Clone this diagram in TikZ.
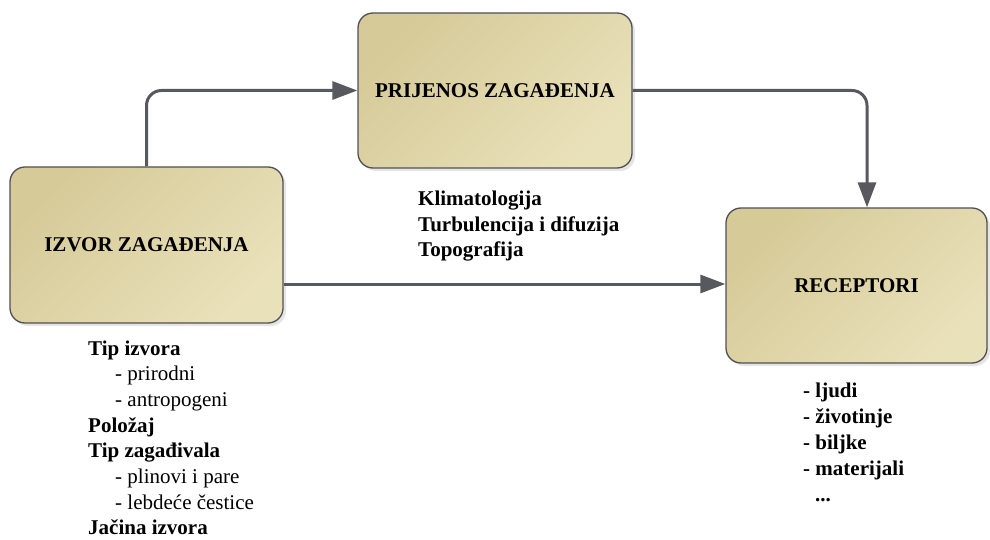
\documentclass[tikz,border=0pt]{standalone}
\usepackage{fontspec}
\setmainfont{Liberation Serif}
\usetikzlibrary{arrows.meta,shadows}
\definecolor{boxdark}{RGB}{214,202,152}
\definecolor{boxlight}{RGB}{233,225,186}
\definecolor{edgecol}{RGB}{80,80,86}
\definecolor{arrcol}{RGB}{88,88,95}
\begin{document}
\begin{tikzpicture}[x=1pt,y=-1pt,
  box/.style={draw=edgecol, line width=1.3pt, rounded corners=15pt,
    top color=boxdark, bottom color=boxlight, shading angle=45,
    drop shadow={shadow xshift=3pt, shadow yshift=-3pt, fill=black!20},
    font=\fontsize{21}{26}\selectfont\bfseries, inner sep=0pt},
  conn/.style={draw=arrcol, line width=3pt, rounded corners=15pt,
    -{Triangle[length=25pt,width=18pt]}},
  txt/.style={anchor=base west, inner sep=0pt, font=\fontsize{21}{26}\selectfont},
  btxt/.style={txt, font=\fontsize{21}{26}\selectfont\bfseries}]
\useasboundingbox (0,0) rectangle (990,540);

\node[box, minimum width=273pt, minimum height=156pt] (izv) at (146.5,245) {IZVOR ZAGAĐENJA};
\node[box, minimum width=274pt, minimum height=155pt] (prij) at (495,90.5) {PRIJENOS ZAGAĐENJA};
\node[box, minimum width=261pt, minimum height=155pt] (rec) at (856.5,285.5) {RECEPTORI};

\draw[conn] (izv.north) |- (prij.west);
\draw[conn] (prij.east) -| ([xshift=10.5pt]rec.north);
\coordinate (a3) at ([yshift=-39pt]izv.east);
\draw[conn] (a3) -- (a3 -| rec.west);

% source list
\node[btxt] (l1) at (88,355) {Tip izvora};
\node[txt]  (l2) at (115,380.7) {- prirodni};
\node[txt]  (l3) at (115,406.4) {- antropogeni};
\node[btxt] (l4) at (88,432.1) {Položaj};
\node[btxt] (l5) at (88,457.8) {Tip zagađivala};
\node[txt]  (l6) at (115,483.5) {- plinovi i pare};
\node[txt]  (l7) at (115,509.2) {- lebdeće čestice};
\node[btxt] (l8) at (88,534.9) {Jačina izvora};

% transport list
\node[btxt] (m1) at (418,206) {Klimatologija};
\node[btxt] (m2) at (418,231) {Turbulencija i difuzija};
\node[btxt] (m3) at (418,256) {Topografija};

% receptor list
\node[btxt] (r1) at (803,397) {- ljudi};
\node[btxt] (r2) at (803,423) {- životinje};
\node[btxt] (r3) at (803,449) {- biljke};
\node[btxt] (r4) at (803,475) {- materijali};
\node[btxt] (r5) at (815,501) {...};
\end{tikzpicture}
\end{document}
